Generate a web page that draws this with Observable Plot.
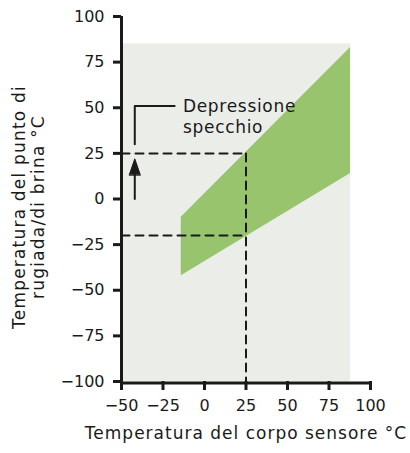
<!DOCTYPE html>
<html><head><meta charset="utf-8">
<script src="https://cdn.jsdelivr.net/npm/d3@7"></script>
<script src="https://cdn.jsdelivr.net/npm/@observablehq/plot@0.6"></script>
<style>body{margin:0;background:#fff}</style>
</head><body><div id="chart"></div>
<script>
const xTicks = [-50, -25, 0, 25, 50, 75, 100];
const yTicks = [-100, -75, -50, -25, 0, 25, 50, 75, 100];
const xDomain = [-50, 100];
const yDomain = [-100, 100];
const regionX = [-50, 88];
const regionY = [-100, 85];
const bandX = [-14, 88];
const bandUpper = [-10, 83];
const bandLower = [-42, 14];
const sensorTemp = 25;
const dewUpper = 25;
const dewLower = -20;
const arrowX = -42;
const arrowFrom = 0;
const arrowTo = 22;
const bracketX = [-42, -42, -18];
const bracketY = [30, 51, 51];
const labelText = "Depressione\nspecchio";
const labelX = -13;
const labelY = 51;
const xTitle = "Temperatura del corpo sensore °C";
const yTitle = "Temperatura del punto di\nrugiada/di brina °C";

const band = bandX.map((x, i) => ({x, y1: bandLower[i], y2: bandUpper[i]}));
const region = [{x1: regionX[0], x2: regionX[1], y1: regionY[0], y2: regionY[1]}];
const dashA = [{x: xDomain[0], y: dewUpper}, {x: sensorTemp, y: dewUpper}];
const dashB = [{x: xDomain[0], y: dewLower}, {x: sensorTemp, y: dewLower}];
const dashV = [{x: sensorTemp, y: dewUpper}, {x: sensorTemp, y: yDomain[0]}];
const bracket = bracketX.map((x, i) => ({x, y: bracketY[i]}));

const headShape = {
  draw(ctx, l, r) {
    ctx.moveTo(-5.5, 0);
    ctx.lineTo(0, -l);
    ctx.lineTo(5.5, 0);
    ctx.closePath();
  }
};

const font = "'DejaVu Sans', sans-serif";
const ink = "#1a1a1a";

const chart = Plot.plot({
  width: 410,
  height: 453,
  marginLeft: 121,
  marginRight: 40,
  marginTop: 16,
  marginBottom: 72,
  style: {fontFamily: font, fontSize: "16px", color: ink, background: "#fff"},
  x: {domain: xDomain},
  y: {domain: yDomain},
  marks: [
    Plot.rect(region, {x1: "x1", x2: "x2", y1: "y1", y2: "y2", fill: "#ebede9"}),
    Plot.areaY(band, {x: "x", y1: "y1", y2: "y2", fill: "#97c46c"}),
    Plot.line(dashA, {x: "x", y: "y", stroke: ink, strokeWidth: 2, strokeDasharray: "8,6"}),
    Plot.line(dashB, {x: "x", y: "y", stroke: ink, strokeWidth: 2, strokeDasharray: "8,6"}),
    Plot.line(dashV, {x: "x", y: "y", stroke: ink, strokeWidth: 2, strokeDasharray: "8,6"}),
    Plot.line([{x: arrowX, y: arrowFrom}, {x: arrowX, y: arrowTo - 8}], {x: "x", y: "y", stroke: ink, strokeWidth: 2}),
    Plot.vector([{x: arrowX, y: arrowTo}], {x: "x", y: "y", length: 16, anchor: "end", shape: headShape, fill: ink, stroke: ink, strokeWidth: 1}),
    Plot.line(bracket, {x: "x", y: "y", stroke: ink, strokeWidth: 2}),
    Plot.text([labelText], {x: labelX, y: labelY, text: d => d, textAnchor: "start", lineAnchor: "middle", fontSize: 17, fill: ink, dy: 10, lineHeight: 1.25}),
    Plot.ruleX([xDomain[0]], {y1: yDomain[0], y2: yDomain[1], stroke: ink, strokeWidth: 3}),
    Plot.ruleY([yDomain[0]], {x1: xDomain[0], x2: xDomain[1], stroke: ink, strokeWidth: 3, dy: 1.5}),
    Plot.axisX(xTicks, {tickSize: 9, strokeWidth: 3, tickPadding: 9, label: null, fill: ink, fontSize: 16}),
    Plot.axisY(yTicks, {tickSize: 8, strokeWidth: 3, tickPadding: 9, label: null, fill: ink, fontSize: 16}),
    Plot.text([xTitle], {frameAnchor: "bottom", dy: 57, text: d => d, fontSize: 17, fill: ink}),
    Plot.text([yTitle], {frameAnchor: "left", textAnchor: "middle", dx: -93, dy: 8, rotate: -90, text: d => d, fontSize: 17, fill: ink, lineHeight: 1.08})
  ]
});
document.getElementById("chart").appendChild(chart);
const spacing = [["Temperatura del corpo", "1px"], ["Temperatura del punto", "1.2px"], ["Depressione", "0.7px"]];
d3.select(chart).selectAll("text").each(function() {
  const t = this.textContent;
  for (const [prefix, ls] of spacing) {
    if (t.startsWith(prefix)) this.style.letterSpacing = ls;
  }
});
</script>
</body></html>
